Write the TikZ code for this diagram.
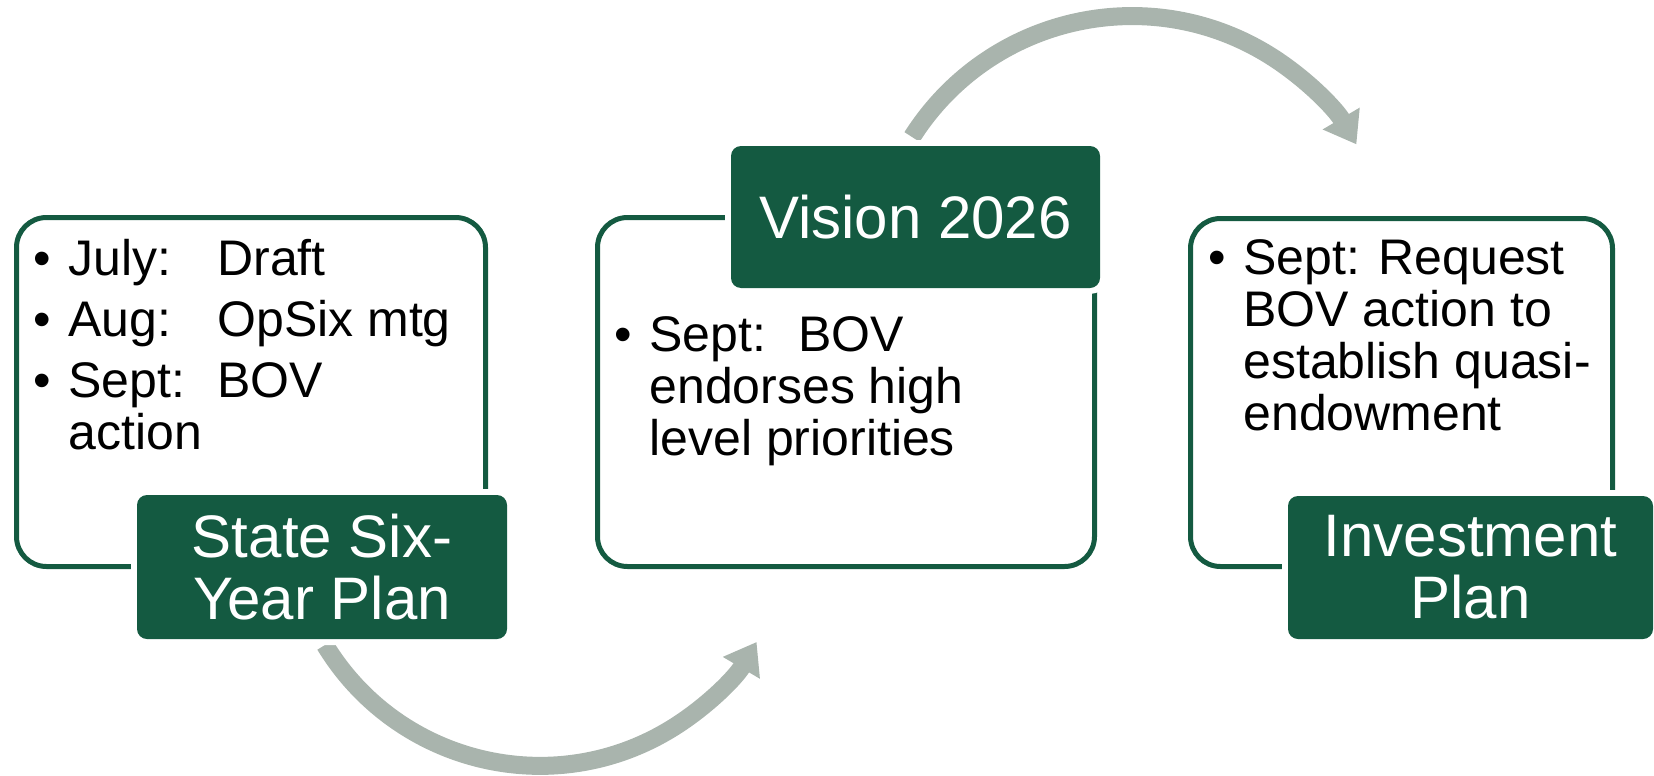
\documentclass[tikz,border=0pt]{standalone}
\usepackage{fontspec}
\setmainfont{Liberation Sans}
\usetikzlibrary{arrows.meta}
\definecolor{vtgreen}{RGB}{20,90,65}
\definecolor{flowgray}{RGB}{169,180,173}
\newcommand{\bul}{\makebox[17.5pt][l]{\textbullet}}
\newcommand{\tabto}[1]{\makebox[74.5pt][l]{#1}}

\tikzset{
  panel/.style={draw=vtgreen, line width=2.5pt, rounded corners=15pt},
  tag/.style={fill=vtgreen, rounded corners=5pt, text=white, align=center,
    font=\fontsize{30}{31}\selectfont, preaction={draw=white, line width=6pt}},
  listtext/.style={anchor=base west, inner sep=0pt, font=\fontsize{25}{26}\selectfont},
  flow/.style={draw=flowgray, line width=9pt, -{Triangle[length=15pt, width=20.5pt]}}
}

\begin{document}
\begin{tikzpicture}[x=0.5pt, y=-0.5pt]
  \useasboundingbox (0,0) rectangle (1654,776);
  % arrows between the stages
  \coordinate (sixout) at (325,645);
  \coordinate (visionout) at (912,137);
  \draw[flow] (sixout) arc[start angle=148.7, end angle=30.5, radius=251.5];
  \draw[flow] (visionout) arc[start angle=212.4, end angle=329.5, radius=260.5];

  % panels
  \node[panel, minimum width=234.5pt, minimum height=174.5pt] (sixbox) at (251,392) {};
  \node[panel, minimum width=248.5pt, minimum height=174.5pt] (visionbox) at (846,392) {};
  \node[panel, minimum width=211pt, minimum height=174pt] (investbox) at (1401.5,392.5) {};

  % lists
  \node[listtext] (sixlist) at (33,275) {\begin{tabular}[t]{@{}l@{}l@{}}
    \bul & \tabto{July:}Draft\\[4.5pt]
    \bul & \tabto{Aug:}OpSix mtg\\[4.5pt]
    \bul & \tabto{Sept:}BOV\\
         & action
  \end{tabular}};
  \node[listtext] (visionlist) at (614,351) {\begin{tabular}[t]{@{}l@{}l@{}}
    \bul & \tabto{Sept:}BOV\\
         & endorses high\\
         & level priorities
  \end{tabular}};
  \node[listtext] (investlist) at (1208,274) {\begin{tabular}[t]{@{}l@{}l@{}}
    \bul & Sept: Request\\
         & BOV action to\\
         & establish quasi-\\
         & endowment
  \end{tabular}};

  % titles
  \node[tag, minimum width=185pt, minimum height=72pt] (sixplan) at (322,567) {State Six-\\Year Plan};
  \node[tag, minimum width=184.5pt, minimum height=71pt] (vision) at (915.5,217) {Vision 2026};
  \node[tag, minimum width=182.5pt, minimum height=71.5pt] (invest) at (1470.5,567.5) {Investment\\Plan};
\end{tikzpicture}
\end{document}
